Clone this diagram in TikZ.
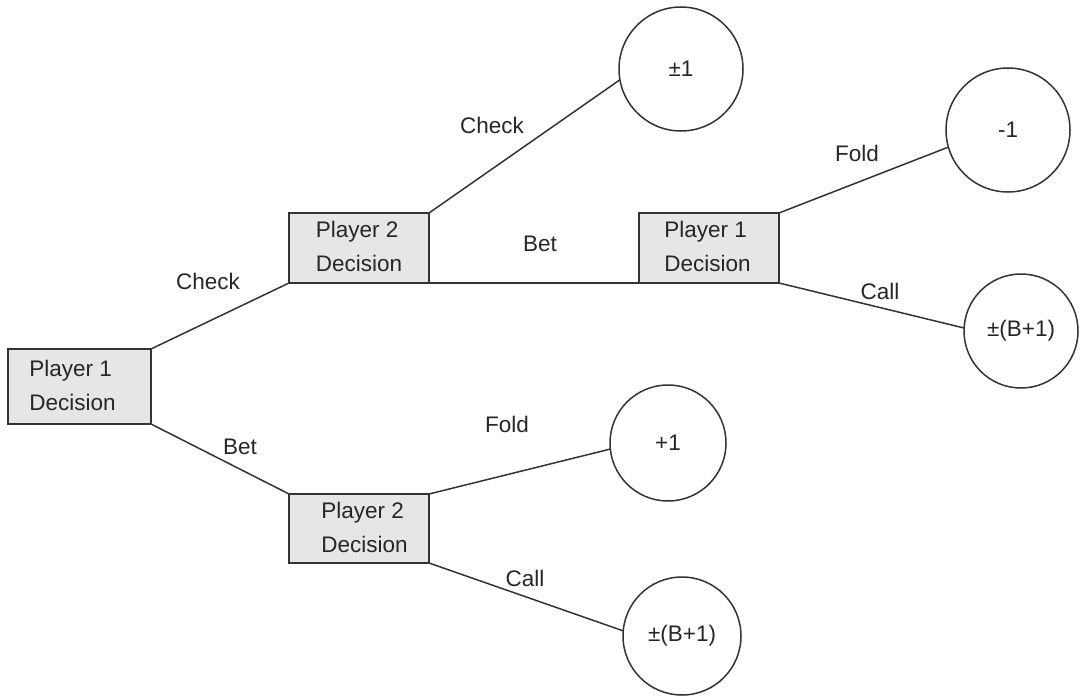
\documentclass[tikz,border=0pt]{standalone}
\usepackage{fontspec}
\setmainfont{Liberation Sans}
\definecolor{edgegray}{HTML}{333333}
\definecolor{boxgray}{HTML}{E6E6E6}
\definecolor{inkgray}{HTML}{262626}
% two left-aligned lines, with optional padding on the left/right to nudge them
\newcommand\boxtext[4]{\hspace*{#1}\begin{tabular}{@{}l@{}}#3\\#4\end{tabular}\hspace*{#2}}
\begin{document}
\begin{tikzpicture}[x=1pt,y=-1pt,
  txt/.style={text=inkgray,font=\fontsize{22.5}{34}\selectfont},
  decision/.style={txt,draw=edgegray,fill=boxgray,line width=1.5pt,rectangle,
    inner sep=0pt,outer sep=0pt,minimum width=140pt,minimum height=70pt},
  payoff/.style={txt,draw=edgegray,line width=1.5pt,circle,inner sep=0pt,outer sep=0pt},
  branch/.style={draw=edgegray,line width=1.5pt},
  act/.style={txt,inner sep=0pt}]
\useasboundingbox (0,0) rectangle (1086,698);

% decision nodes
\node[decision,minimum width=143pt,minimum height=75pt] (p1root) at (79.5,386.5)
  {\boxtext{0pt}{14pt}{Player 1}{Decision}};
\node[decision] (p2check) at (359,248) {\boxtext{0pt}{0pt}{Player 2}{Decision}};
\node[decision] (p1bet) at (709,248) {\boxtext{0pt}{3pt}{Player 1}{Decision}};
\node[decision,minimum height=69pt] (p2bet) at (359,528.5)
  {\boxtext{11pt}{0pt}{Player 2}{Decision}};

% terminal payoffs
\node[payoff,minimum size=124pt] (t1) at (681,69) {±1};
\node[payoff,minimum size=124pt] (t2) at (1008,130) {-1};
\node[payoff,minimum size=114pt] (t3) at (1021,331) {±(B+1)};
\node[payoff,minimum size=116pt] (t4) at (668,443) {+1};
\node[payoff,minimum size=118pt] (t5) at (682,636) {±(B+1)};

% branches
\draw[branch] (p1root.north east) -- (p2check.south west);
\draw[branch] (p1root.south east) -- (p2bet.north west);
\draw[branch] (p2check.north east) -- (t1.190);
\draw[branch] (p2check.south east) -- (p1bet.south west);
\draw[branch] (p1bet.north east) -- (t2.196);
\draw[branch] (p1bet.south east) -- (t3.177);
\draw[branch] (p2bet.north east) -- (t4.186);
\draw[branch] (p2bet.south east) -- (t5.175);

% action labels
\node[act] (l1) at (208,281) {Check};
\node[act] (l2) at (240,447) {Bet};
\node[act] (l3) at (492,125) {Check};
\node[act] (l4) at (540,244) {Bet};
\node[act] (l5) at (857,153) {Fold};
\node[act] (l6) at (880,291) {Call};
\node[act] (l7) at (507,424) {Fold};
\node[act] (l8) at (525,578) {Call};
\end{tikzpicture}
\end{document}
